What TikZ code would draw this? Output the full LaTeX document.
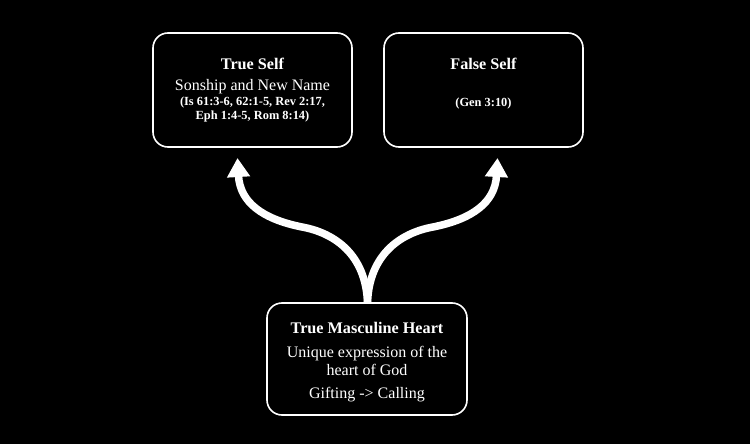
\documentclass[tikz,border=0pt]{standalone}
\usepackage{fontspec}
\setmainfont{Liberation Serif}
\usetikzlibrary{arrows.meta}
\begin{document}
\begin{tikzpicture}[x=1pt,y=-1pt,
  box/.style={draw=white,line width=1.6pt,rounded corners=15pt,fill=black},
  ttl/.style={text=white,font=\fontsize{16.2}{18}\selectfont\bfseries,inner sep=0pt},
  txt/.style={text=white,font=\fontsize{16}{18}\selectfont,inner sep=0pt,align=center},
  small/.style={text=white,font=\fontsize{12.4}{14}\selectfont\bfseries,inner sep=0pt,align=center},
  flow/.style={draw=white,line width=7.5pt,-{Triangle[width=22pt,length=19pt]}}]
\fill[black] (0,0) rectangle (750,444);
\useasboundingbox (0,0) rectangle (750,444);
% boxes
\draw[box] (153,33) rectangle (352,147);
\node (trueself) at (252.5,90) {};
\draw[box] (384,33) rectangle (583,147);
\node (falseself) at (483.5,90) {};
\draw[box] (267,303) rectangle (467,415);
\node (heart) at (367,359) {};
\coordinate (root) at (367.5,303);
\coordinate (tipL) at (237.5,158);
\coordinate (tipR) at (497.5,158);
% arrows
\draw[flow] (root) .. controls (366,255) and (335,233) .. (302,227)
  .. controls (262,219) and (240,202) .. (tipL);
\draw[flow] (root) .. controls (369,255) and (400,233) .. (433,227)
  .. controls (473,219) and (495,202) .. (tipR);
% texts
\node[ttl] (t1) at (252.5,64) {True Self};
\node[txt] (t2) at (252.5,87) {Sonship and New Name};
\node[small] (t3) at (252.5,110) {(Is 61:3-6, 62:1-5, Rev 2:17,\\Eph 1:4-5, Rom 8:14)};
\node[ttl] (f1) at (483.5,64) {False Self};
\node[small] (f2) at (483.5,104) {(Gen 3:10)};
\node[ttl] (h1) at (367,328) {True Masculine Heart};
\node[txt] (h2) at (367,361) {Unique expression of the\\heart of God};
\node[txt] (h3) at (367,395) {Gifting -> Calling};
\end{tikzpicture}
\end{document}
